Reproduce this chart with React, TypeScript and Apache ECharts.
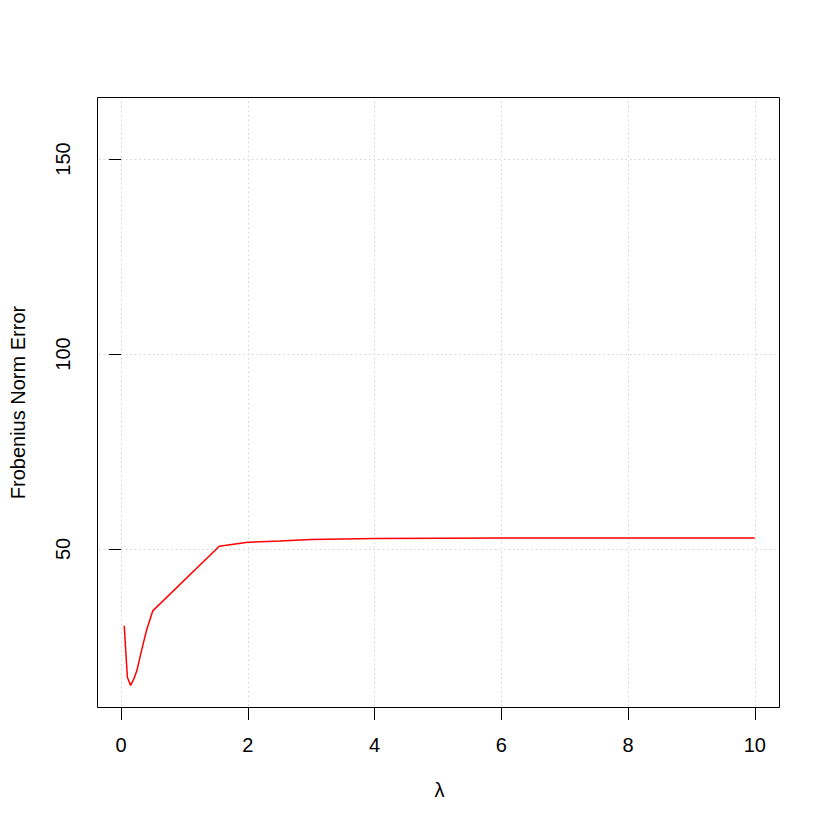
import React, { useEffect, useRef } from "react";
import * as echarts from "echarts";

const lambdaValues = [0.05, 0.1, 0.15, 0.2, 0.25, 0.3, 0.35, 0.4, 0.45, 0.5, 1.55, 2, 2.5, 3, 4, 5, 6, 7, 8, 9, 10];
const errorValues = [30.3, 17.1, 15.0, 16.6, 18.8, 22.3, 25.7, 29.0, 31.6, 34.1, 50.7, 51.7, 52.0, 52.4, 52.7, 52.75, 52.8, 52.8, 52.8, 52.8, 52.8];
const xTicks = [0, 2, 4, 6, 8, 10];
const yTicks = [50, 100, 150];

export default function App() {
  const ref = useRef<HTMLDivElement>(null);
  useEffect(() => {
    if (!ref.current) return;
    const chart = echarts.init(ref.current, null, { renderer: "svg" });
    const font = "'Liberation Sans', Arial, Helvetica, sans-serif";
    const grid = { lineStyle: { color: "#d3d3d3", type: [1.5, 3] as any, width: 1 } };
    chart.setOption({
      animation: false,
      backgroundColor: "#ffffff",
      textStyle: { fontFamily: font },
      grid: { left: 97, right: 50, top: 97, bottom: 122, show: false },
      graphic: [
        {
          type: "rect",
          shape: { x: 97.5, y: 97.5, width: 682, height: 610 },
          style: { fill: "none", stroke: "#000", lineWidth: 1 },
          silent: true,
          z: 100,
        },
      ],
      xAxis: {
        type: "value",
        min: -0.348,
        max: 10.398,
        name: "λ",
        nameLocation: "middle",
        nameGap: 72,
        nameTextStyle: { fontSize: 20, color: "#000", fontFamily: font },
        axisLine: { show: false },
        axisTick: { show: true, inside: false, length: 12, customValues: xTicks, lineStyle: { color: "#000" } },
        axisLabel: { customValues: xTicks, margin: 27, fontSize: 20, color: "#000", fontFamily: font },
        splitLine: { show: true, ...grid },
      },
      yAxis: {
        type: "value",
        min: 9.2,
        max: 165.9,
        name: "Frobenius Norm Error",
        nameLocation: "middle",
        nameRotate: 90,
        nameGap: 71,
        nameTextStyle: { fontSize: 20, color: "#000", fontFamily: font },
        axisLine: { show: false },
        axisTick: { show: true, inside: false, length: 12, customValues: yTicks, lineStyle: { color: "#000" } },
        axisLabel: { customValues: yTicks, rotate: 90, margin: 26, fontSize: 20, color: "#000", fontFamily: font },
        splitLine: { show: true, ...grid },
      },
      series: [
        {
          type: "line",
          data: lambdaValues.map((x, i) => [x, errorValues[i]]),
          showSymbol: false,
          symbol: "none",
          lineStyle: { color: "#ff0000", width: 1.5 },
        },
      ],
    });
    return () => chart.dispose();
  }, []);
  return <div ref={ref} style={{ position: "fixed", left: 0, top: 0, width: 830, height: 830 }} />;
}
